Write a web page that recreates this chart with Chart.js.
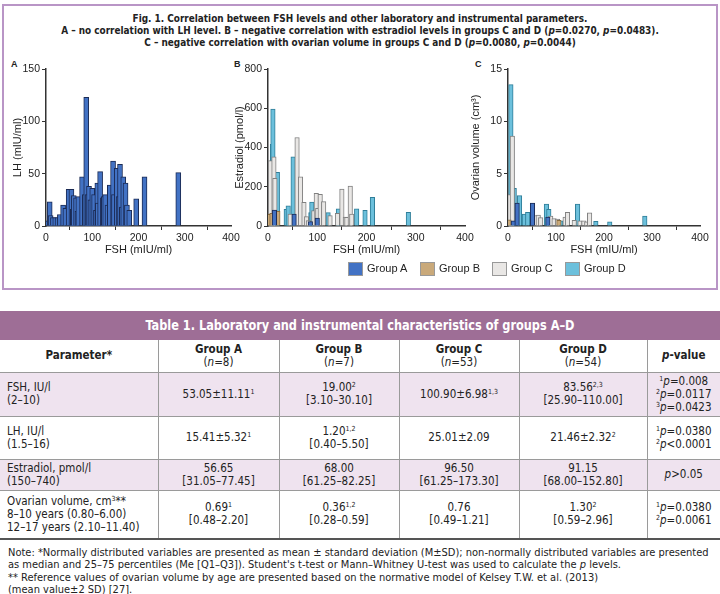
<!DOCTYPE html>
<html>
<head>
<meta charset="utf-8">
<script src="https://cdn.jsdelivr.net/npm/chart.js@4.4.0/dist/chart.umd.min.js"></script>
<style>
  body { margin: 0; width: 720px; height: 594px; position: relative; background: #fff; overflow: hidden;
         font-family: "DejaVu Sans Condensed", "Liberation Sans Narrow", "Arial Narrow", sans-serif; color: #222; }
  #fig { position: absolute; left: 2px; top: 4px; width: 712px; height: 282px; border: 2px solid #b995c6; }
  .ftitle { position: absolute; left: 0; width: 720px; text-align: center; font-weight: bold; font-size: 11px;
            transform: scaleX(0.9); transform-origin: 360px 0; }
  .plabel { position: absolute; font-family: "Liberation Sans", Arial, sans-serif; font-weight: bold; font-size: 9px; }
  canvas { position: absolute; }
  #legend { position: absolute; top: 262px; left: 348px; font-family: "Liberation Sans", Arial, sans-serif; font-size: 11px; }
  .lg { position: absolute; top: 0; white-space: nowrap; }
  .lg span.box { position: absolute; top: 0; width: 13px; height: 12px; border: 1px solid #999; }
  .lg span.txt { position: absolute; left: 19px; top: 0; line-height: 13px; }
  #tbar { position: absolute; left: 0; top: 311px; width: 720px; height: 29px; background: #9e6e96; }
  #tbar div { width: 720px; color: #fff; font-weight: bold; font-size: 14px; line-height: 29px; text-align: center;
              transform: scaleX(0.9); transform-origin: 360px 0; }
  table { position: absolute; left: 0; top: 340px; width: 720px; border-collapse: collapse; font-size: 11.5px; table-layout: fixed; }
  td { border: 1px solid #9a9a9a; text-align: center; vertical-align: middle; padding: 0 2px; line-height: 13px; }
  tr td:first-child { border-left: none; text-align: left; padding-left: 7px; }
  tr td:last-child { border-right: none; }
  tr.hd td { font-weight: bold; border-top: none; }
  tr.lav td { background: #efe3ef; }
  tr.last td { border-bottom: 2px solid #555; }
  sup { font-size: 7px; vertical-align: 4px; line-height: 0; }
  #notes { position: absolute; left: 8px; top: 547px; width: 712px; font-size: 11px; line-height: 12.3px; }
</style>
</head>
<body>
<div id="fig"></div>
<div class="ftitle" style="top:12px">Fig. 1. Correlation between FSH levels and other laboratory and instrumental parameters.</div>
<div class="ftitle" style="top:24px">A – no correlation with LH level. B – negative correlation with estradiol levels in groups C and D (<i>p</i>=0.0270, <i>p</i>=0.0483).</div>
<div class="ftitle" style="top:36px">C – negative correlation with ovarian volume in groups C and D (<i>p</i>=0.0080, <i>p</i>=0.0044)</div>
<div class="plabel" style="left:11px;top:59px">A</div>
<div class="plabel" style="left:234px;top:59px">B</div>
<div class="plabel" style="left:475px;top:59px">C</div>
<canvas id="chartA" width="236" height="202" style="left:8px;top:58px"></canvas>
<canvas id="chartB" width="248" height="202" style="left:230px;top:58px"></canvas>
<canvas id="chartC" width="248" height="202" style="left:466px;top:58px"></canvas>
<div id="legend"></div>

<div id="tbar"><div>Table 1. Laboratory and instrumental characteristics of groups A–D</div></div>
<table>
  <colgroup><col style="width:158px"><col style="width:121px"><col style="width:120px"><col style="width:120px"><col style="width:128px"><col style="width:73px"></colgroup>
  <tr class="hd" style="height:32px"><td style="text-align:center;padding-left:2px">Parameter*</td><td>Group A<br><span style="font-weight:normal">(<i>n</i>=8)</span></td><td>Group B<br><span style="font-weight:normal">(<i>n</i>=7)</span></td><td>Group C<br><span style="font-weight:normal">(<i>n</i>=53)</span></td><td>Group D<br><span style="font-weight:normal">(<i>n</i>=54)</span></td><td><i>p</i>-value</td></tr>
  <tr class="lav" style="height:44px"><td>FSH, IU/l<br>(2–10)</td><td>53.05±11.11<sup>1</sup></td><td>19.00<sup>2</sup><br>[3.10–30.10]</td><td>100.90±6.98<sup>1,3</sup></td><td>83.56<sup>2,3</sup><br>[25.90–110.00]</td><td><sup>1</sup><i>p</i>=0.008<br><sup>2</sup><i>p</i>=0.0117<br><sup>3</sup><i>p</i>=0.0423</td></tr>
  <tr style="height:43px"><td>LH, IU/l<br>(1.5–16)</td><td>15.41±5.32<sup>1</sup></td><td>1.20<sup>1,2</sup><br>[0.40–5.50]</td><td>25.01±2.09</td><td>21.46±2.32<sup>2</sup></td><td><sup>1</sup><i>p</i>=0.0380<br><sup>2</sup><i>p</i>&lt;0.0001</td></tr>
  <tr class="lav" style="height:31px"><td>Estradiol, pmol/l<br>(150–740)</td><td>56.65<br>[31.05–77.45]</td><td>68.00<br>[61.25–82.25]</td><td>96.50<br>[61.25–173.30]</td><td>91.15<br>[68.00–152.80]</td><td><i>p</i>&gt;0.05</td></tr>
  <tr class="last" style="height:49px"><td>Ovarian volume, cm<sup>3</sup>**<br>8–10 years (0.80–6.00)<br>12–17 years (2.10–11.40)</td><td>0.69<sup>1</sup><br>[0.48–2.20]</td><td>0.36<sup>1,2</sup><br>[0.28–0.59]</td><td>0.76<br>[0.49–1.21]</td><td>1.30<sup>2</sup><br>[0.59–2.96]</td><td><sup>1</sup><i>p</i>=0.0380<br><sup>2</sup><i>p</i>=0.0061</td></tr>
</table>
<div id="notes">Note: *Normally distributed variables are presented as mean ± standard deviation (M±SD); non-normally distributed variables are presented<br>as median and 25–75 percentiles (Me [Q1–Q3]). Student's t-test or Mann–Whitney U-test was used to calculate the <i>p</i> levels.<br>** Reference values of ovarian volume by age are presented based on the normative model of Kelsey T.W. et al. (2013)<br>(mean value±2 SD) [27].</div>

<script>
var groupNames = ['Group A', 'Group B', 'Group C', 'Group D'];
var groupFill = ['#4272c4', '#c9a97a', '#e9e7e5', '#6cc0dc'];
var groupLine = ['#1b2b55', '#8a6d40', '#808080', '#2f7e99'];

// panel A: FSH vs LH (all patients)
var fshA = [1, 8, 10, 15, 20, 25, 30, 37, 42, 49, 55, 58, 60, 65, 68, 70, 78, 84, 87, 90, 93, 96, 100, 104, 108, 111, 112, 117, 123, 125, 128, 133, 138, 145, 147, 153, 157, 160, 164, 167, 172, 175, 180, 195, 213, 286];
var lhA = [5, 23, 10, 8, 8, 8, 11, 20, 17, 35, 35, 16, 29, 27, 14, 28, 47, 30, 123, 30, 38, 25, 36, 30, 15, 41, 22, 52, 27, 28, 30, 20, 39, 62, 30, 55, 28, 59, 18, 47, 41, 20, 15, 26, 47, 51];

// panel B: FSH vs estradiol by group
var estFsh = [
  [13, 53, 86, 100],
  [3, 8, 20],
  [5, 12, 14, 45, 59, 66, 73, 78, 82, 93, 98, 101, 106, 113, 126, 141, 150, 157, 160, 167, 170],
  [9, 10, 19, 37, 41, 51, 87, 89, 122, 143, 180, 197, 212, 285]
];
var estVal = [
  [81, 61, 22, 40],
  [60, 65, 75],
  [333, 353, 243, 61, 451, 251, 120, 48, 27, 78, 166, 90, 161, 124, 53, 65, 188, 45, 44, 204, 61],
  [416, 596, 273, 85, 103, 353, 68, 122, 68, 87, 87, 80, 146, 70]
];

// panel C: FSH vs ovarian volume by group
var ovFsh = [
  [11, 19, 51, 83],
  [2, 106],
  [4, 9, 58, 63, 68, 89, 96, 103, 119, 124, 138, 150, 158, 164, 170],
  [6, 13, 24, 34, 41, 80, 85, 110, 145, 183, 212, 285]
];
var ovVal = [
  [0.5, 2.2, 2.2, 0.85],
  [0.6, 0.55],
  [3.0, 8.6, 1.0, 1.05, 0.8, 0.95, 0.7, 0.65, 0.85, 1.3, 0.55, 0.5, 0.5, 0.4, 1.25],
  [13.5, 3.6, 2.9, 1.15, 1.3, 2.1, 1.6, 0.5, 2.1, 0.45, 0.4, 0.95]
];

Chart.defaults.font.family = "'Liberation Sans', Arial, sans-serif";
Chart.defaults.font.size = 10.5;
Chart.defaults.color = '#222';

function toPoints(xs, ys) {
    return xs.map(function (x, i) { return {x: x, y: ys[i]}; });
}

function makeDataset(i, xs, ys, thick) {
    return {
        label: groupNames[i],
        data: toPoints(xs, ys),
        backgroundColor: groupFill[i],
        borderColor: groupLine[i],
        borderWidth: 1,
        barThickness: thick,
        grouped: false
    };
}

function createChart(id, yTitle, yMax, yStep, datasets, yWidth, padRight) {
    return new Chart(document.getElementById(id), {
        type: 'bar',
        data: { datasets: datasets },
        options: {
            responsive: false,
            animation: false,
            layout: { padding: { top: 11, right: padRight, left: 0, bottom: 0 } },
            plugins: { legend: { display: false }, tooltip: { enabled: false } },
            scales: {
                x: {
                    type: 'linear', min: 0, max: 400, offset: false,
                    ticks: { stepSize: 100, padding: 2 },
                    grid: { drawOnChartArea: false, tickLength: 4, tickColor: '#333' },
                    border: { color: '#333', width: 1.5 },
                    title: { display: true, text: 'FSH (mIU/ml)', font: { size: 11 }, padding: { top: 0, bottom: 3 } },
                    afterFit: function (scale) { scale.height = 34; }
                },
                y: {
                    min: 0, max: yMax,
                    ticks: { stepSize: yStep, padding: 2 },
                    grid: { drawOnChartArea: false, tickLength: 4, tickColor: '#333' },
                    border: { color: '#333', width: 1.5 },
                    title: { display: true, text: yTitle, font: { size: 11 }, padding: { top: 3, bottom: 0 } },
                    afterFit: function (scale) { scale.width = yWidth; }
                }
            }
        }
    });
}

createChart('chartA', 'LH (mIU/ml)', 150, 50, [makeDataset(0, fshA, lhA, 5)], 38, 13);

var dsB = [], dsC = [];
for (var g = 0; g < 4; g++) {
    dsB.push(makeDataset(g, estFsh[g], estVal[g], 4.5));
    dsC.push(makeDataset(g, ovFsh[g], ovVal[g], 4.5));
}
createChart('chartB', 'Estradiol (pmol/l)', 800, 200, dsB, 38, 13);
createChart('chartC', 'Ovarian volume (cm³)', 15, 5, dsC, 42, 14);

// legend
var legendLeft = [0, 72, 144, 217];
var legend = document.getElementById('legend');
groupNames.forEach(function (name, i) {
    var d = document.createElement('div');
    d.className = 'lg';
    d.style.left = legendLeft[i] + 'px';
    d.innerHTML = '<span class="box" style="background:' + groupFill[i] + '"></span><span class="txt">' + name + '</span>';
    legend.appendChild(d);
});
</script>
</body>
</html>
